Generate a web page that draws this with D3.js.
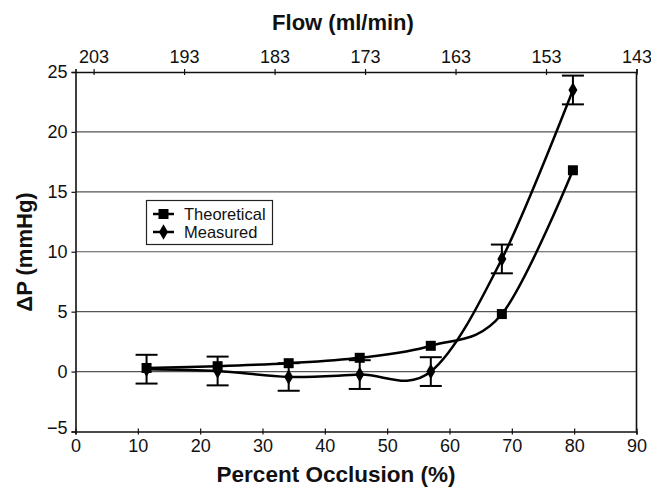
<!DOCTYPE html>
<html>
<head>
<meta charset="utf-8">
<script src="https://cdn.jsdelivr.net/npm/d3@7"></script>
<style>
  body { margin: 0; background: #fff; }
  text { font-family: "Liberation Sans", Arial, sans-serif; fill: #111; }
</style>
</head>
<body>
<svg></svg>
<script>
// data
let occlusion = [11.4, 22.8, 34.2, 45.6, 57.0, 68.4, 79.8];
let theoretical = [0.3, 0.45, 0.7, 1.15, 2.15, 4.8, 16.8];
let measured = [0.2, 0.05, -0.45, -0.25, 0.0, 9.4, 23.5];
let measuredErr = [1.2, 1.2, 1.15, 1.2, 1.2, 1.2, 1.2];
let xTicks = [0, 10, 20, 30, 40, 50, 60, 70, 80, 90];
let yTicks = [-5, 0, 5, 10, 15, 20, 25];
let flowTicks = [203, 193, 183, 173, 163, 153, 143];
let gridValues = [0, 5, 10, 15, 20];

let svg = d3.select("svg").attr("width", 651).attr("height", 487);

let plotLeft = 75.5, plotRight = 636.5, plotTop = 72, plotBottom = 431.5;

let x = d3.scaleLinear().domain([0, 90]).range([plotLeft, plotRight]);
let y = d3.scaleLinear().domain([-5, 25]).range([plotBottom, plotTop]);
let flow = d3.scaleLinear().domain([205, 143]).range([plotLeft, plotRight]);

// grid lines
svg.append("g")
    .selectAll("line")
    .data(gridValues)
    .join("line")
    .attr("x1", plotLeft)
    .attr("x2", plotRight)
    .attr("y1", (d) => y(d))
    .attr("y2", (d) => y(d))
    .style("stroke", "#555")
    .style("stroke-width", 1.2);

// right border
svg.append("line")
    .attr("x1", plotRight).attr("x2", plotRight)
    .attr("y1", plotTop).attr("y2", plotBottom)
    .style("stroke", "#111").style("stroke-width", 1.6);

// bottom axis
let xAxis = svg.append("g")
    .attr("transform", `translate(0,${plotBottom})`)
    .call(d3.axisBottom(x).tickValues(xTicks).tickSize(3).tickPadding(5));
xAxis.selectAll(".tick line").attr("y1", -3).attr("y2", 3);

// top axis
let topAxis = svg.append("g")
    .attr("transform", `translate(0,${plotTop})`)
    .call(d3.axisTop(flow).tickValues(flowTicks).tickSize(3).tickPadding(6));
topAxis.selectAll(".tick line").attr("y1", -3).attr("y2", 3);

// left axis
let yAxis = svg.append("g")
    .attr("transform", `translate(${plotLeft},0)`)
    .call(d3.axisLeft(y).tickValues(yTicks).tickSize(4).tickPadding(4));

yAxis.selectAll(".tick text").filter((d) => d === -5).attr("dy", "0.1em");

[xAxis, topAxis, yAxis].forEach((a) => {
    a.select(".domain").style("stroke", "#111").style("stroke-width", 1.6);
    a.selectAll(".tick line").style("stroke", "#111").style("stroke-width", 1.2);
    a.selectAll(".tick text")
        .style("font-size", "18px")
        .style("font-family", "'Liberation Sans', Arial, sans-serif")
        .style("fill", "#111");
});

// axis titles
svg.append("text")
    .attr("x", 343).attr("y", 30)
    .attr("text-anchor", "middle")
    .style("font-size", "22px").style("font-weight", "bold")
    .text("Flow (ml/min)");

svg.append("text")
    .attr("x", 336).attr("y", 482)
    .attr("text-anchor", "middle")
    .style("font-size", "22.5px").style("font-weight", "bold")
    .text("Percent Occlusion (%)");

svg.append("text")
    .attr("transform", "translate(32,252) rotate(-90)")
    .attr("text-anchor", "middle")
    .style("font-size", "22px").style("font-weight", "bold")
    .text("ΔP (mmHg)");

// curves
let line = d3.line()
    .x((d) => x(d[0]))
    .y((d) => y(d[1]))
    .curve(d3.curveCardinal.tension(0));

svg.append("path")
    .attr("d", line(d3.zip(occlusion, theoretical)))
    .style("fill", "none").style("stroke", "#000").style("stroke-width", 2.5);

svg.append("path")
    .attr("d", line(d3.zip(occlusion, measured)))
    .style("fill", "none").style("stroke", "#000").style("stroke-width", 2.5);

// error bars
let bars = svg.append("g").style("stroke", "#000").style("stroke-width", 2);
occlusion.forEach((o, i) => {
    let cx = x(o);
    let hi = y(measured[i] + measuredErr[i]);
    let lo = y(measured[i] - measuredErr[i]);
    bars.append("line").attr("x1", cx).attr("x2", cx).attr("y1", hi).attr("y2", lo);
    bars.append("line").attr("x1", cx - 11).attr("x2", cx + 11).attr("y1", hi).attr("y2", hi);
    bars.append("line").attr("x1", cx - 11).attr("x2", cx + 11).attr("y1", lo).attr("y2", lo);
});

// markers
let square = d3.symbol().type(d3.symbolSquare).size(100);
let diamond = d3.symbol().type(d3.symbolDiamond).size(70);

svg.append("g")
    .selectAll("path")
    .data(d3.zip(occlusion, theoretical))
    .join("path")
    .attr("d", square)
    .attr("transform", (d) => `translate(${x(d[0])},${y(d[1])})`)
    .style("fill", "#000");

svg.append("g")
    .selectAll("path")
    .data(d3.zip(occlusion, measured))
    .join("path")
    .attr("d", diamond)
    .attr("transform", (d) => `translate(${x(d[0])},${y(d[1])})`)
    .style("fill", "#000");

// legend
let legend = svg.append("g");
legend.append("rect")
    .attr("x", 146.5).attr("y", 200.5)
    .attr("width", 126).attr("height", 44)
    .style("fill", "#fff").style("stroke", "#222").style("stroke-width", 1.2);

let legendItems = [
    { label: "Theoretical", sym: square, cy: 214 },
    { label: "Measured", sym: diamond, cy: 232 }
];
legendItems.forEach((it) => {
    legend.append("line")
        .attr("x1", 153).attr("x2", 174)
        .attr("y1", it.cy).attr("y2", it.cy)
        .style("stroke", "#000").style("stroke-width", 2.5);
    legend.append("path")
        .attr("d", it.sym)
        .attr("transform", `translate(163.5,${it.cy})`)
        .style("fill", "#000");
    legend.append("text")
        .attr("x", 184).attr("y", it.cy + 6)
        .style("font-size", "16.5px")
        .text(it.label);
});
</script>
</body>
</html>
